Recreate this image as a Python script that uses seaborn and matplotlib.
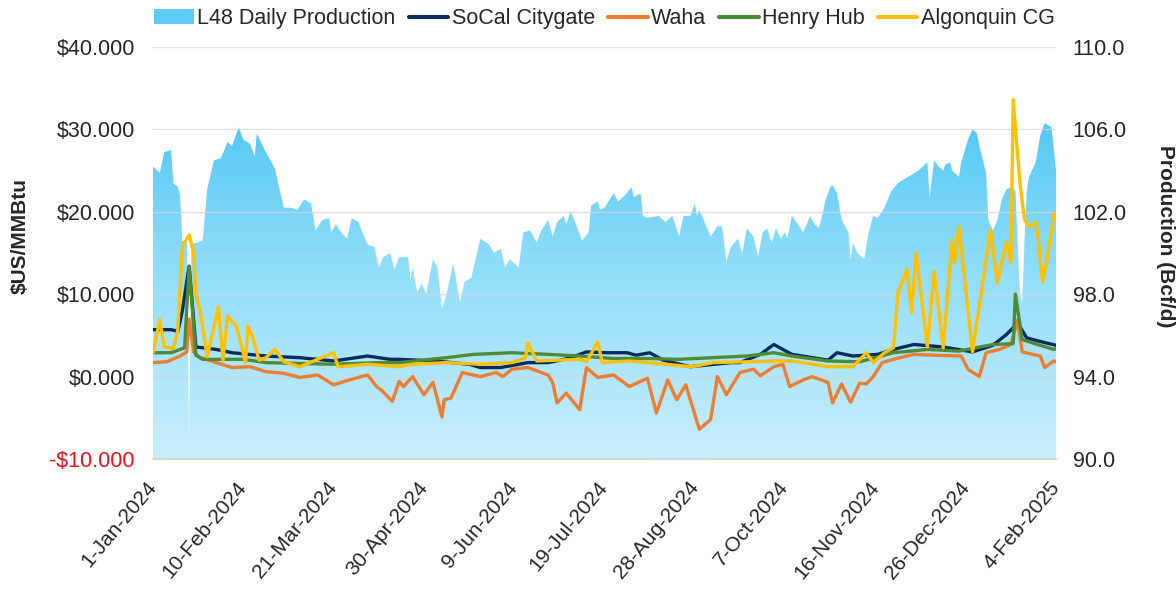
#!/usr/bin/env python3
"""L48 daily production vs regional gas prices, Jan-2024 to Feb-2025."""

import matplotlib
matplotlib.use("Agg")
import matplotlib.dates as mdates
import matplotlib.pyplot as plt
import numpy as np
import pandas as pd
import seaborn as sns
from matplotlib.colors import LinearSegmentedColormap
from matplotlib.lines import Line2D
from matplotlib.patches import Patch

START = pd.Timestamp("2024-01-01")

# L48 daily production (Bcf/d), day offset from 1-Jan-2024
prod_days = [
    0, 3, 5, 8, 9, 11, 12, 13, 15, 16, 17, 19, 22, 24, 27, 30, 32, 33, 35, 38,
    40, 43, 45, 46, 49, 51, 54, 56, 58, 61, 64, 67, 70, 72, 75, 78, 79, 81, 84, 86,
    88, 91, 95, 98, 100, 102, 105, 107, 109, 113, 114, 115, 117, 119, 121, 124, 126, 128, 130, 133,
    136, 138, 141, 145, 149, 151, 154, 156, 158, 162, 164, 167, 170, 172, 175, 177, 179, 182, 183, 185,
    187, 190, 193, 194, 197, 198, 200, 204, 206, 209, 212, 213, 216, 217, 219, 224, 227, 230, 233, 235,
    238, 240, 241, 242, 247, 250, 252, 254, 256, 259, 261, 263, 266, 268, 270, 272, 274, 276, 278, 280,
    281, 283, 285, 288, 290, 291, 293, 295, 298, 300, 301, 303, 305, 308, 309, 310, 312, 315, 317, 319,
    321, 324, 327, 330, 333, 336, 339, 342, 343, 344, 346, 348, 350, 351, 353, 354, 357, 358, 361, 363,
    365, 366, 369, 370, 372, 374, 376, 378, 380, 382, 384, 385, 386, 387, 388, 391, 393, 395, 398, 399,
    400,
]
prod_vals = [
    104.2, 103.9, 104.9, 105.0, 103.4, 103.2, 102.8, 100.6, 100.5, 90.8, 100.4, 100.5, 100.6, 103.1, 104.5, 104.6, 105.1, 105.4, 105.2, 106.1,
    105.5, 105.3, 104.7, 105.8, 105.1, 104.7, 104.1, 103.1, 102.2, 102.2, 102.1, 102.6, 102.4, 101.1, 101.6, 101.7, 101.0, 101.4, 100.9, 100.7,
    101.7, 101.5, 100.4, 100.3, 99.3, 99.8, 100.0, 99.2, 99.8, 99.8, 98.7, 99.3, 98.1, 98.5, 98.0, 99.7, 99.3, 97.3, 98.0, 99.5,
    97.6, 98.6, 98.8, 100.7, 100.4, 100.0, 100.2, 99.3, 99.7, 99.3, 101.0, 101.1, 100.5, 101.1, 101.6, 100.8, 101.5, 101.8, 101.4, 102.0,
    101.5, 100.6, 101.0, 102.3, 102.5, 102.1, 102.2, 102.9, 102.5, 102.8, 103.2, 102.7, 102.9, 101.8, 101.7, 101.8, 101.5, 101.8, 100.8, 101.8,
    101.8, 102.4, 101.8, 102.1, 100.8, 101.3, 101.3, 99.6, 100.3, 100.7, 100.0, 101.2, 100.8, 99.8, 101.0, 101.2, 100.5, 101.2, 100.7, 101.0,
    100.7, 101.8, 101.5, 101.0, 101.5, 101.8, 101.4, 101.2, 102.6, 103.2, 103.3, 102.9, 101.6, 101.0, 99.7, 100.5, 100.0, 99.7, 101.0, 101.8,
    101.7, 102.2, 103.0, 103.4, 103.6, 103.8, 104.0, 104.3, 104.4, 102.7, 104.5, 104.2, 104.0, 104.3, 104.4, 104.0, 103.7, 104.4, 105.5, 106.0,
    105.8, 105.2, 103.9, 101.6, 101.1, 101.6, 102.6, 103.1, 103.2, 103.0, 98.0, 97.6, 100.5, 103.0, 103.7, 104.4, 105.7, 106.3, 106.1, 105.0,
    104.0,
]

# Prices ($US/MMBtu), day offset from 1-Jan-2024
socal_days = [0, 8, 11, 13, 16, 19, 28, 35, 50, 65, 80, 95, 105, 109, 125, 140, 145, 154, 166, 175,
              184, 192, 201, 210, 214, 220, 226, 238, 256, 260, 269, 275, 283, 299, 303, 310, 321, 328, 337, 350,
              363, 372, 378, 383, 387, 394, 400]
socal_vals = [5.7, 5.7, 5.5, 8.0, 13.4, 3.6, 3.3, 2.9, 2.5, 2.3, 1.9, 2.5, 2.1, 2.1, 1.9, 1.5, 1.1, 1.1, 1.7, 1.7,
              2.2, 3.0, 2.9, 2.9, 2.6, 2.9, 2.0, 1.2, 1.7, 1.7, 2.7, 3.9, 2.7, 2.0, 2.9, 2.5, 2.7, 3.3, 3.9, 3.6,
              3.0, 3.8, 5.1, 6.5, 4.7, 4.2, 3.8]

waha_days = [0, 6, 12, 15, 16, 18, 21, 28, 35, 43, 50, 58, 65, 73, 80, 87, 95, 99, 101, 106,
             109, 111, 115, 120, 124, 128, 129, 132, 137, 145, 152, 155, 159, 166, 175, 177, 179, 183, 189, 192,
             197, 204, 211, 219, 223, 228, 232, 236, 242, 247, 250, 254, 260, 266, 269, 275, 279, 282, 288, 292,
             299, 301, 305, 309, 313, 316, 319, 323, 328, 337, 346, 358, 361, 366, 369, 375, 380, 383, 385, 393,
             395, 399, 400]
waha_vals = [1.7, 1.8, 2.5, 3.0, 7.0, 3.0, 2.3, 1.7, 1.1, 1.2, 0.6, 0.4, -0.1, 0.2, -1.0, -0.4, 0.2, -1.2, -1.6, -3.0,
             -0.6, -1.2, 0.0, -2.2, -0.7, -4.9, -2.8, -2.6, 0.5, 0.0, 0.5, 0.0, 0.9, 1.1, 0.2, -0.7, -3.2, -2.0, -4.0, 1.1,
             -0.1, 0.2, -1.2, -0.2, -4.4, -0.4, -2.8, -1.0, -6.4, -5.2, 0.0, -2.2, 0.5, 0.9, 0.1, 1.2, 1.5, -1.2, -0.4, 0.0,
             -0.7, -3.2, -0.9, -3.1, -0.8, -0.9, 0.0, 1.7, 2.1, 2.7, 2.6, 2.5, 0.9, 0.0, 2.9, 3.3, 3.9, 6.9, 3.0, 2.5,
             1.1, 1.9, 1.8]

henry_days = [0, 8, 14, 16, 19, 22, 40, 50, 80, 101, 109, 130, 142, 159, 175, 189, 204, 219, 233, 248,
              263, 275, 283, 299, 313, 328, 343, 357, 372, 381, 382, 385, 393, 399, 400]
henry_vals = [2.9, 2.9, 3.5, 13.3, 2.6, 2.1, 2.1, 1.7, 1.5, 1.7, 1.7, 2.3, 2.7, 2.9, 2.7, 2.5, 2.2, 2.2, 2.1, 2.3,
              2.5, 2.9, 2.5, 1.9, 1.8, 2.9, 3.3, 3.1, 3.9, 4.0, 10.0, 4.5, 3.8, 3.3, 3.4]

algon_days = [0, 3, 5, 9, 11, 13, 16, 18, 19, 21, 24, 29, 31, 33, 37, 41, 42, 44, 47, 50,
              54, 58, 65, 80, 82, 95, 109, 115, 130, 145, 159, 165, 166, 170, 189, 192, 197, 199, 211, 219,
              239, 248, 263, 275, 283, 299, 310, 316, 319, 324, 328, 330, 334, 336, 338, 343, 346, 350, 354, 355,
              357, 363, 371, 374, 378, 380, 381, 384, 386, 388, 391, 392, 394, 396, 399, 400]
algon_vals = [2.9, 6.9, 3.6, 3.4, 5.7, 15.8, 17.2, 15.0, 10.0, 7.8, 2.4, 8.5, 2.0, 7.3, 6.1, 1.7, 6.1, 4.9, 2.0, 2.3,
              3.3, 1.8, 1.2, 2.9, 1.2, 1.5, 1.2, 1.5, 1.7, 1.5, 1.7, 2.3, 4.1, 1.9, 2.1, 1.8, 4.2, 1.7, 1.9, 1.7,
              1.2, 1.7, 1.8, 1.9, 1.9, 1.2, 1.2, 2.9, 1.7, 2.9, 3.5, 10.2, 13.0, 7.8, 15.0, 3.6, 12.8, 3.5, 16.6, 13.8,
              18.2, 3.0, 17.8, 11.4, 16.3, 13.8, 33.6, 23.5, 19.1, 18.2, 18.7, 17.0, 11.5, 14.2, 19.7, 19.8]

series_names = ["SoCal Citygate", "Waha", "Henry Hub", "Algonquin CG"]
series_colors = ["#0B2A5E", "#ED7D31", "#4F8A35", "#FFC000"]
price_ticks = [-10, 0, 10, 20, 30, 40]
prod_ticks = [90, 94, 98, 102, 106, 110]
tick_step_days = 40
end_day = 400


def to_dates(days):
    return START + pd.to_timedelta(days, unit="D")


def main() -> None:
    sns.set_theme(style="white")
    plt.rcParams["font.family"] = ["Liberation Sans", "DejaVu Sans"]
    fs = 15.5
    text_color = "#262626"

    fig = plt.figure(figsize=(11.76, 5.9), dpi=100)
    ax = fig.add_axes([0.1301, 0.222, 0.7679, 0.6983])
    ax2 = ax.twinx()
    ax.set_zorder(ax2.get_zorder() + 1)
    ax.patch.set_visible(False)

    # production area with vertical gradient
    pdates = to_dates(prod_days)
    poly = ax2.fill_between(pdates, prod_vals, 90, color="none", lw=0)
    x0 = mdates.date2num(START)
    x1 = mdates.date2num(to_dates([end_day])[0])
    cmap = LinearSegmentedColormap.from_list("prod", ["#C9EEFC", "#8ADCF9", "#34BCF0"])
    grad = np.linspace(0, 1, 256).reshape(-1, 1)
    im = ax2.imshow(grad, aspect="auto", cmap=cmap, origin="lower",
                    extent=[x0, x1, 90, 110], zorder=1)
    im.set_clip_path(poly.get_paths()[0], transform=ax2.transData)
    ax2.set_ylim(90, 110)
    ax2.set_xlim(x0, x1)

    # price lines
    frames = []
    for name, days, vals in [
        ("SoCal Citygate", socal_days, socal_vals),
        ("Waha", waha_days, waha_vals),
        ("Henry Hub", henry_days, henry_vals),
        ("Algonquin CG", algon_days, algon_vals),
    ]:
        frames.append(pd.DataFrame({"date": to_dates(days), "price": vals, "series": name}))
    prices = pd.concat(frames, ignore_index=True)
    sns.lineplot(data=prices, x="date", y="price", hue="series", hue_order=series_names,
                 palette=series_colors, linewidth=2.4, ax=ax, legend=False)

    ax.set_ylim(-10, 40)
    ax.set_xlim(x0, x1)

    # gridlines, faint
    for t in price_ticks[1:]:
        ax.axhline(t, color="#D6D6D6", lw=1.0, alpha=0.75, zorder=0.5)

    # axes styling
    for a in (ax, ax2):
        for s in a.spines.values():
            s.set_visible(False)
    ax.spines["bottom"].set_visible(True)
    ax.spines["bottom"].set_color("#D0D0D0")
    ax.spines["bottom"].set_linewidth(1.2)

    ax.set_yticks(price_ticks)
    ax.set_yticklabels([f"-${abs(t):.3f}" if t < 0 else f"${t:.3f}" for t in price_ticks])
    ax.tick_params(axis="y", length=0, pad=13, labelcolor=text_color, labelsize=fs)
    ax.get_yticklabels()[0].set_color("#E8101A")

    ax2.set_yticks(prod_ticks)
    ax2.set_yticklabels([f"{t:.1f}" for t in prod_ticks])
    ax2.tick_params(axis="y", length=0, pad=12, labelcolor=text_color, labelsize=fs)

    xt = to_dates(list(range(0, end_day + 1, tick_step_days)))
    ax.set_xticks(xt)
    ax.set_xticklabels([f"{d.day}-{d.strftime('%b-%Y')}" for d in xt],
                       rotation=50, ha="right", va="center", rotation_mode="anchor")
    ax.tick_params(axis="x", length=0, pad=18, labelcolor=text_color, labelsize=15)
    ax2.tick_params(axis="x", bottom=False, labelbottom=False)

    ax.set_xlabel("")
    ax.set_ylabel("$US/MMBtu", fontweight="bold", fontsize=15, color=text_color)
    ax.yaxis.set_label_coords(-0.136, 0.541)
    ax2.set_ylabel("Production (Bcf/d)", fontweight="bold", fontsize=15,
                   color=text_color, rotation=-90, va="center")
    ax2.yaxis.set_label_coords(1.121, 0.541)

    handles = [Patch(facecolor="#5FCBF5", edgecolor="none", label="L48 Daily Production")]
    handles += [Line2D([0], [0], color=c, lw=3, label=n) for n, c in zip(series_names, series_colors)]
    fig.legend(handles=handles, loc="center", bbox_to_anchor=(0.514, 0.968), ncol=5,
               frameon=False, handlelength=1.85, handleheight=0.7, handletextpad=0.15,
               columnspacing=0.6, labelcolor=text_color, fontsize=fs)

    fig.savefig("out.png", dpi=100)
    plt.close(fig)


if __name__ == "__main__":
    main()
